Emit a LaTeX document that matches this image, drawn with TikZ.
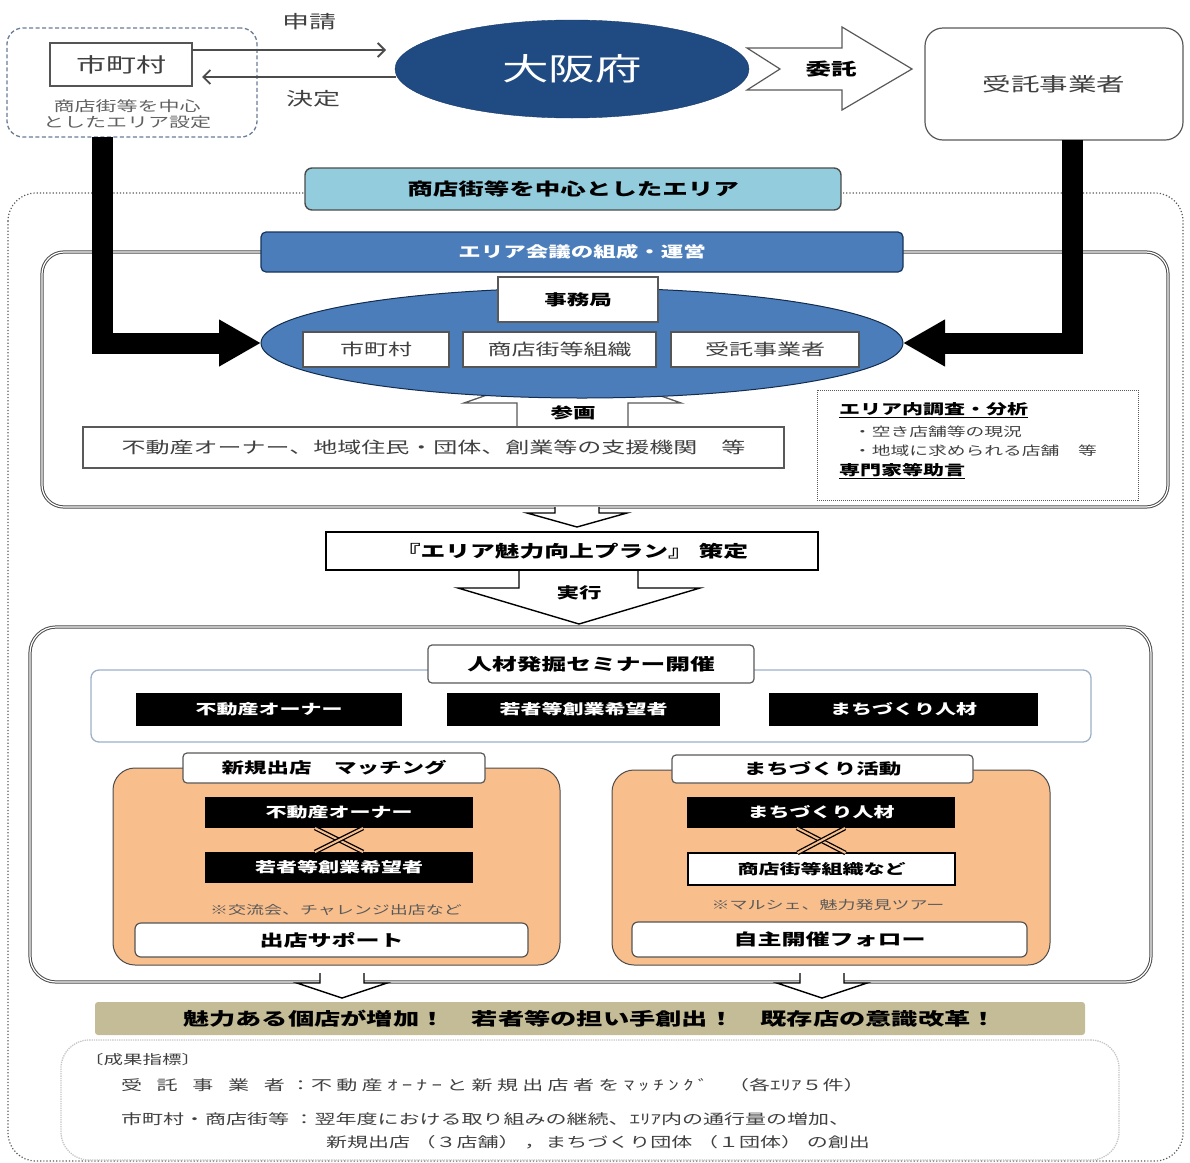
\documentclass[tikz,border=0pt]{standalone}
\usepackage{fontspec}
\setmainfont{Noto Sans CJK JP}[FakeStretch=1.5]
\newfontfamily\widejp{Noto Sans CJK JP}[FakeStretch=1.5,LetterSpace=31]
\usetikzlibrary{shapes.geometric,arrows.meta}
\definecolor{dblue}{HTML}{1F4A82}
\definecolor{mblue}{HTML}{4A7DBA}
\definecolor{lblue}{HTML}{93CDDD}
\definecolor{orng}{HTML}{F8BE8C}
\definecolor{olive}{HTML}{C4BC96}
\definecolor{bord}{HTML}{555555}
\definecolor{txtg}{HTML}{404040}
\definecolor{dashc}{HTML}{6A7C96}
\definecolor{semc}{HTML}{9BB0C8}
\newcommand\FS[1]{\fontsize{#1}{#1}\selectfont}
\begin{document}
\begin{tikzpicture}[x=1pt,y=-1pt,
  every node/.style={inner sep=0pt,outer sep=0pt},
  wbox/.style={rectangle,draw=bord,fill=white,line width=1.2pt},
  blk/.style={rectangle,fill=black,text=white,font=\FS{14}\bfseries},
  tabbox/.style={rectangle,draw=gray!70!black,fill=white,rounded corners=4pt,line width=1.2pt,font=\FS{15}\bfseries},
  hollow/.style={draw=black,fill=white,line width=1.4pt,line join=miter},
  thinarr/.style={draw=gray!60!black,line width=1.8pt,-{Straight Barb[length=7pt,width=14pt]}},
  bigarr/.style={draw=black,line width=21pt,-{Triangle[length=42pt,width=44pt]}},
  crossln/.style={draw=black,double=#1,double distance=2pt,line width=1.3pt},
  secbox/.style={rectangle,draw=gray!60!black,double=white,double distance=1.2pt,line width=1pt,rounded corners=22pt},
  orbox/.style={rectangle,draw=gray!60!black,fill=orng,line width=1pt,rounded corners=22pt},
  suppbox/.style={rectangle,draw=bord,fill=white,line width=1.2pt,rounded corners=6pt,font=\FS{16}\bfseries},
  notetxt/.style={font=\FS{12},text=gray!70!black},
  restxt/.style={anchor=west,font=\FS{14},text=txtg}
]
\useasboundingbox (0,0) rectangle (1190,1162);

% ---------- top row ----------
\node[rectangle,draw=dashc,dash pattern=on 4pt off 2.5pt,line width=1.3pt,rounded corners=16pt,
      minimum width=250pt,minimum height=109pt] (dashbox) at (132,82.5) {};
\node[wbox,minimum width=142pt,minimum height=43pt,font=\FS{20},text=txtg] (muni) at (121,64.5) {市町村};
\node[align=center,font=\fontsize{14}{16.5}\selectfont,text=gray!75!black] (mnote) at (127,114) {商店街等を中心\\としたエリア設定};

\node[ellipse,fill=dblue,draw=dblue!80!black,minimum width=354pt,minimum height=98pt,text=white,font=\FS{31}] (osaka) at (572,69) {大阪府};

\coordinate (shinEnd) at (386,50);
\coordinate (ketStart) at (396,77);
\draw[thinarr] ([yshift=14.5pt]muni.east) -- (shinEnd);
\draw[thinarr] (ketStart) -- ([yshift=-12.5pt,xshift=10pt]muni.east);
\node[font=\FS{18},text=txtg] (lshin) at (309,22) {申請};
\node[font=\FS{18},text=txtg] (lket) at (313,99) {決定};

\draw[draw=gray!70!black,fill=white,line width=1.2pt,line join=miter]
  (747,48) -- (842,48) -- (842,27) -- (912,69) -- (842,110) -- (842,90) -- (747,90) -- (780,69) -- cycle;
\node[font=\FS{17}\bfseries] (litaku) at (831,69) {委託};

\node[rectangle,draw=gray!70!black,fill=white,rounded corners=18pt,line width=1.2pt,
      minimum width=258pt,minimum height=112pt,font=\FS{19},text=txtg] (jutaku) at (1054,84) {受託事業者};

% ---------- outer dotted area ----------
\draw[draw=gray!70!black,dotted,line width=1.2pt,rounded corners=28pt] (8,193) rectangle (1183,1161);
\node[rectangle,fill=lblue,draw=gray!60!black,rounded corners=7pt,line width=1.4pt,
      minimum width=536pt,minimum height=42pt,font=\FS{17}\bfseries] (area) at (573,189) {商店街等を中心としたエリア};

% ---------- section 1 ----------
\node[secbox,minimum width=1126pt,minimum height=255pt] (sec1) at (605,379.5) {};
\node[rectangle,fill=mblue,draw=dblue!70!black,line width=1.2pt,rounded corners=5pt,
      minimum width=642pt,minimum height=40pt,text=white,font=\FS{15}\bfseries] (hdr) at (582,252) {エリア会議の組成・運営};

\draw[draw=gray!70!black,fill=white,line width=1.3pt,line join=miter]
  (517,431) -- (517,403) -- (464,403) -- (573,365) -- (681,403) -- (628,403) -- (628,431);
\node[font=\FS{15}\bfseries] (sankaku) at (573,413) {参画};

\node[ellipse,fill=mblue,draw=dblue!60!black,line width=1pt,minimum width=642pt,minimum height=110pt] (council) at (582,343) {};
\node[wbox,draw=gray!70!black,minimum width=160pt,minimum height=45pt,font=\FS{15}\bfseries] (jimu) at (578,299.5) {事務局};
\node[wbox,minimum width=146pt,minimum height=35pt,font=\FS{16},text=txtg] (m2) at (376,349.5) {市町村};
\node[wbox,minimum width=193pt,minimum height=35pt,font=\FS{16},text=txtg] (s2) at (559.5,349.5) {商店街等組織};
\node[wbox,minimum width=188pt,minimum height=35pt,font=\FS{16},text=txtg] (j2) at (765,349.5) {受託事業者};

\node[wbox,draw=gray!70!black,minimum width=701pt,minimum height=41pt,font=\FS{16},text=txtg] (fud) at (433.5,447.5) {不動産オーナー、地域住民・団体、創業等の支援機関　等};

\node[rectangle,draw=gray!70!black,densely dotted,line width=1pt,minimum width=321pt,minimum height=110pt] (survey) at (977.5,445) {};
\node[anchor=west,font=\FS{14}\bfseries] (sv1) at (839,410) {\underline{エリア内調査・分析}};
\node[anchor=west,font=\FS{12.5},text=txtg] (sv2) at (853,432) {・空き店舗等の現況};
\node[anchor=west,font=\FS{12.5},text=txtg] (sv3) at (853,451) {・地域に求められる店舗　等};
\node[anchor=west,font=\FS{14}\bfseries] (sv4) at (839,471) {\underline{専門家等助言}};

% big L arrows
\draw[bigarr] ([xshift=-30pt]dashbox.south) |- (council.west);
\draw[bigarr] ([xshift=18pt]jutaku.south) |- (council.east);

% ---------- plan ----------
\draw[hollow] (555,507) -- (555,513) -- (527,513) -- (577,527) -- (627,513) -- (599,513) -- (599,507);
\node[rectangle,draw=black,line width=2.4pt,fill=white,minimum width=492pt,minimum height=38pt,font=\FS{16.5}\bfseries] (plan) at (572,551) {『エリア魅力向上プラン』 策定};
\draw[hollow] (519,571) -- (519,588) -- (458,588) -- (579,624) -- (700,588) -- (638,588) -- (638,571);
\node[font=\FS{15}\bfseries] (jikko) at (579,593) {実行};

% ---------- section 2 ----------
\node[secbox,rounded corners=26pt,minimum width=1121pt,minimum height=355pt] (sec2) at (590.5,804.5) {};
\node[rectangle,draw=semc,fill=white,line width=1.3pt,rounded corners=8pt,minimum width=1000pt,minimum height=72pt] (sem) at (591,706) {};
\node[tabbox,font=\FS{16.5}\bfseries,minimum width=326pt,minimum height=38pt] (semtab) at (591,664) {人材発掘セミナー開催};
\node[blk,minimum width=266pt,minimum height=33pt] (b1) at (269,709.5) {不動産オーナー};
\node[blk,minimum width=273pt,minimum height=33pt] (b2) at (583.5,709.5) {若者等創業希望者};
\node[blk,minimum width=269pt,minimum height=33pt] (b3) at (903.5,709.5) {まちづくり人材};

% left orange
\node[orbox,minimum width=447pt,minimum height=197pt] (orL) at (336.5,866.5) {};
\node[tabbox,minimum width=302pt,minimum height=30pt] (tabL) at (334,768) {新規出店　マッチング};
\node[blk,minimum width=268pt,minimum height=31pt] (L1) at (339,812.5) {不動産オーナー};
\node[blk,minimum width=268pt,minimum height=31pt] (L2) at (339,867.5) {若者等創業希望者};
\draw[crossln=orng] ([xshift=-24pt]L1.south) -- ([xshift=24pt]L2.north);
\draw[crossln=orng] ([xshift=24pt]L1.south) -- ([xshift=-24pt]L2.north);
\node[notetxt] (noteL) at (336,910) {※交流会、チャレンジ出店など};
\node[suppbox,minimum width=393pt,minimum height=34pt] (suppL) at (331.5,940) {出店サポート};

% right orange
\node[orbox,minimum width=438pt,minimum height=195pt] (orR) at (831,867.5) {};
\node[tabbox,minimum width=301pt,minimum height=28pt] (tabR) at (822.5,769) {まちづくり活動};
\node[blk,minimum width=268pt,minimum height=31pt] (R1) at (821,812.5) {まちづくり人材};
\node[rectangle,draw=black,fill=white,line width=1.5pt,minimum width=267pt,minimum height=32pt,font=\FS{14}\bfseries] (R2) at (821.5,869) {商店街等組織など};
\draw[crossln=orng] ([xshift=-24pt]R1.south) -- ([xshift=24pt]R2.north);
\draw[crossln=orng] ([xshift=24pt]R1.south) -- ([xshift=-24pt]R2.north);
\node[notetxt] (noteR) at (828,905) {※マルシェ、魅力発見ツアー};
\node[suppbox,minimum width=395pt,minimum height=35pt] (suppR) at (829.5,939.5) {自主開催フォロー};

% ---------- bottom ----------
\draw[hollow] (320,973) -- (320,983) -- (297,983) -- (342,998) -- (387,983) -- (364,983) -- (364,973);
\draw[hollow] (800,973) -- (800,983) -- (777,983) -- (822,998) -- (867,983) -- (844,983) -- (844,973);
\node[rectangle,fill=olive,rounded corners=3pt,minimum width=990pt,minimum height=33pt,font=\FS{17.5}\bfseries] (banner) at (590,1018.5) {魅力ある個店が増加！　若者等の担い手創出！　既存店の意識改革！};

\node[rectangle,draw=gray!45,fill=white,densely dotted,line width=1.3pt,rounded corners=28pt,minimum width=1058pt,minimum height=120pt] (res) at (590,1100) {};
\node[restxt,font=\FS{13}] (r1) at (84,1060) {〔成果指標〕};
\node[restxt] (r2a) at (121,1085) {\makebox[164pt][s]{受\hfill 託\hfill 事\hfill 業\hfill 者}};
\node[restxt] (r2b) at (290,1085) {：{\widejp 不動産ｵｰﾅｰと新規出店者をﾏｯﾁﾝｸﾞ}};
\node[restxt] (r2c) at (728,1085) {（各ｴﾘｱ５件）};
\node[restxt] (r3) at (121,1119) {市町村・商店街等 ：翌年度における取り組みの継続、ｴﾘｱ内の通行量の増加、};
\node[restxt] (r4) at (326,1142) {新規出店 （３店舗） ，まちづくり団体 （１団体） の創出};
\end{tikzpicture}
\end{document}
